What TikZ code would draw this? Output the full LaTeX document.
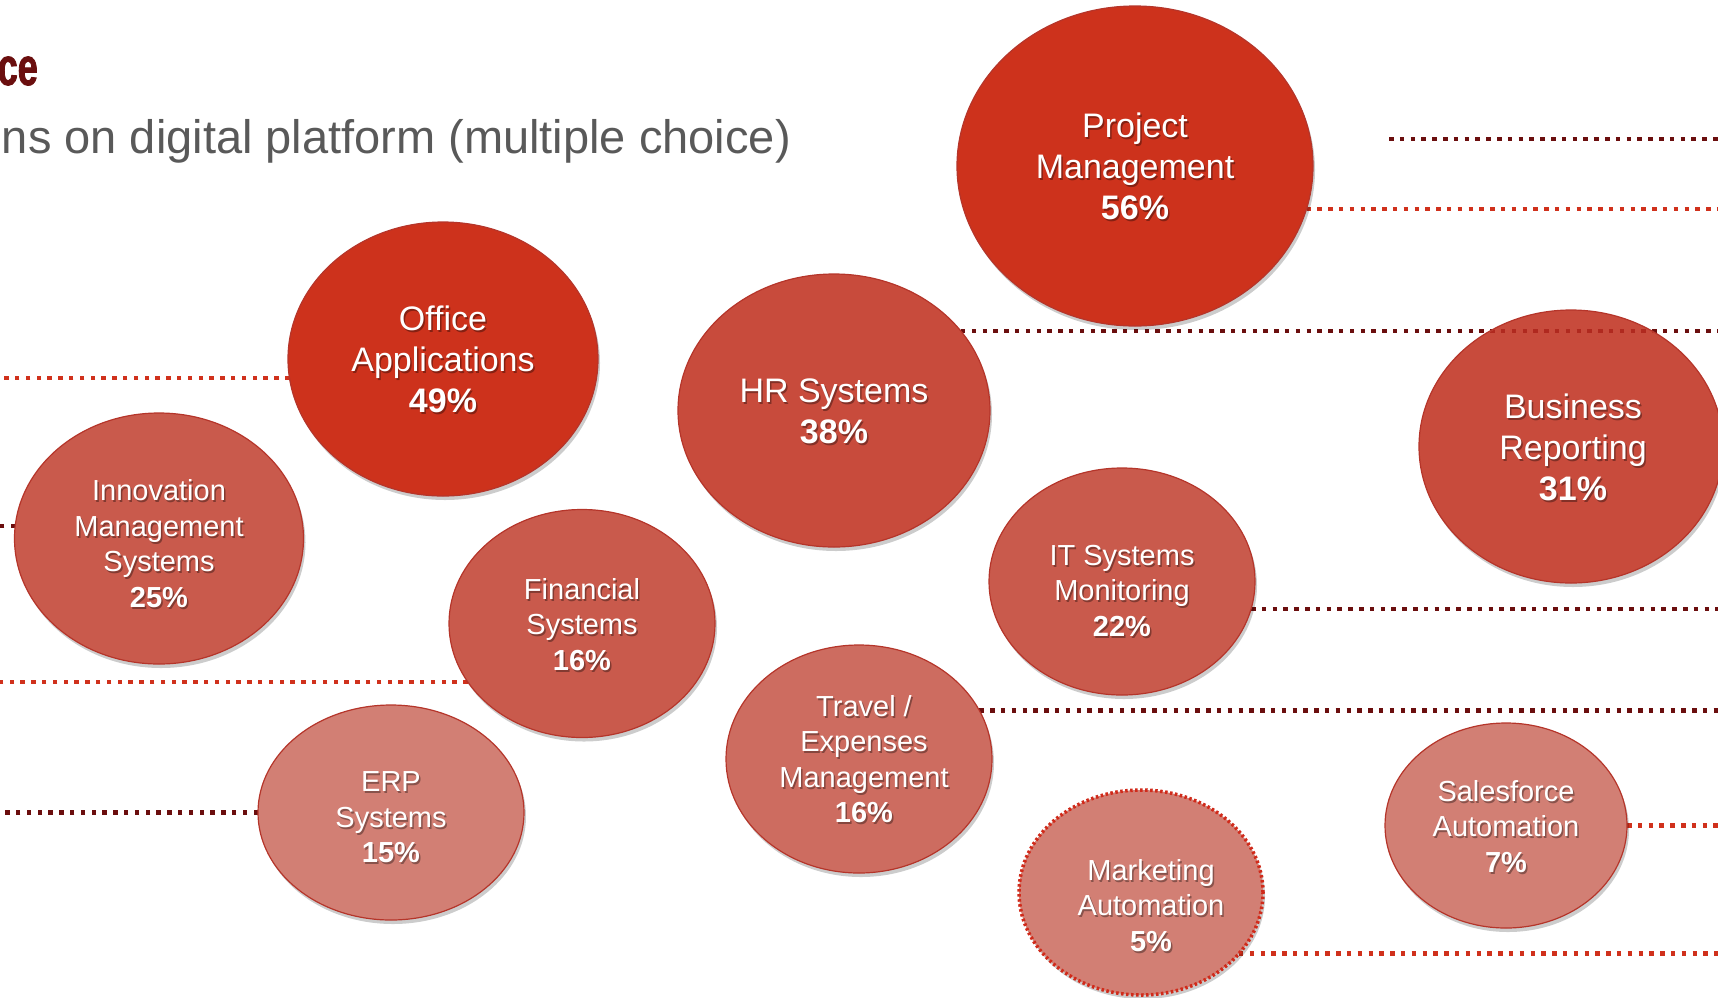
\documentclass[tikz,border=0pt]{standalone}
\usepackage{fontspec}
\setmainfont{Liberation Sans}
\newfontfamily\titlefont{Liberation Sans}[FakeStretch=0.68, FakeBold=1.6]
\usetikzlibrary{shapes.geometric,shadows}
\definecolor{cTop}{HTML}{CD321C}
\definecolor{cHigh}{HTML}{C84B3C}
\definecolor{cMid}{HTML}{C95A4C}
\definecolor{cTrav}{HTML}{CD6C60}
\definecolor{cLow}{HTML}{D27F74}
\definecolor{bord}{HTML}{B5352A}
\definecolor{lnD}{HTML}{6B0E0E}
\definecolor{lnB}{HTML}{D0311C}
\definecolor{lnX}{HTML}{B0291F}
\definecolor{titlecol}{HTML}{6B0F0F}
\definecolor{subcol}{HTML}{595959}
\definecolor{mkbord}{HTML}{D02A1A}
\pgfdeclarelayer{bg}
\pgfsetlayers{bg,main}
\newcommand\BubBig{\fontsize{34}{41}\selectfont}
\newcommand\BubSmall{\fontsize{29}{35.5}\selectfont}
\newcommand\btext[4]{%
  \node[txs,font=#3] (#1-s) at ([#2,xshift=1.5pt,yshift=-2pt]#1.center) {#4};
  \node[txt,font=#3] (#1-t) at ([#2]#1.center) {#4};}
\tikzset{
  bub/.style={ellipse, inner sep=0pt, outer sep=0pt, draw=bord, line width=1.2pt,
    drop shadow={shadow xshift=2pt, shadow yshift=-4pt, opacity=0.2, fill=black}},
  dk/.style={draw=lnD, line width=4.5pt, dash pattern=on 4.5pt off 6.3pt},
  bl/.style={draw=lnB, line width=4.5pt, dash pattern=on 4.5pt off 6.3pt},
  xl/.style={draw=lnX, line width=4.5pt, dash pattern=on 4.5pt off 6.3pt},
  txt/.style={text=white, align=center, inner sep=0pt},
  txs/.style={text=black, text opacity=0.35, align=center, inner sep=0pt},
}
\begin{document}
\begin{tikzpicture}[x=1pt,y=-1pt]
\useasboundingbox (0,0) rectangle (1718,997);
\coordinate (L) at (0,0);
\coordinate (R) at (1718,0);
\coordinate (l1) at (1389,139);

% title
\node[anchor=base east, inner sep=0pt, text=titlecol, font=\fontsize{53}{60}\titlefont\bfseries] (title) at (38,85) {ce};
\node[anchor=base east, inner sep=0pt, text=subcol, font=\fontsize{47}{56}\selectfont] (sub) at (791,153) {ns on digital platform (multiple choice)};

% bubbles
\node[bub, fill=cTop, minimum width=356pt, minimum height=320pt] (pm) at (1135,166) {};
\node[bub, fill=cTop, minimum width=310pt, minimum height=274pt] (of) at (443,359) {};
\node[bub, fill=cHigh, minimum width=312pt, minimum height=273pt] (hr) at (834,410.5) {};
\node[bub, fill=cHigh, minimum width=304pt, minimum height=273pt] (bu) at (1571,446.5) {};
\node[bub, fill=cMid, minimum width=289pt, minimum height=251pt] (in) at (159,538.5) {};
\node[bub, fill=cMid, minimum width=266pt, minimum height=228pt] (fi) at (582,623.5) {};
\node[bub, fill=cMid, minimum width=266pt, minimum height=227pt] (it) at (1122,581.5) {};
\node[bub, fill=cTrav, minimum width=266pt, minimum height=228pt] (tr) at (859,759) {};
\node[bub, fill=cLow, minimum width=266pt, minimum height=215pt] (erp) at (391,812.5) {};
\node[bub, fill=cLow, minimum width=242pt, minimum height=205pt] (sf) at (1506,825.5) {};
\node[bub, fill=cLow, draw=mkbord, line width=3.5pt, dash pattern=on 2.5pt off 2.5pt, minimum width=244pt, minimum height=205pt] (mk) at (1141,892.5) {};

% dotted lines
\begin{pgfonlayer}{bg}
\draw[dk] (l1) -- (l1 -| R);
\draw[bl] (pm.-14.1) -- (pm.-14.1 -| R);
\draw[dk] (hr.32.6) -- (hr.32.6 -| R);
\draw[bl] (of.187) -- (of.187 -| L);
\draw[dk] (in.175.3) -- (in.175.3 -| L);
\draw[dk] (it.-12.5) -- (it.-12.5 -| R);
\draw[bl] (fi.207.7) -- (fi.207.7 -| L);
\draw[dk] (tr.22.7) -- (tr.22.7 -| R);
\draw[dk] (erp.west) -- (erp.west -| L);
\draw[bl] (sf.east) -- (sf.east -| R);
\draw[bl] (mk.-32.9) -- (mk.-32.9 -| R);
\end{pgfonlayer}
% line seen through Business Reporting
\begin{scope}
\clip (bu.center) ellipse [x radius=151pt, y radius=135.5pt];
\draw[xl] (hr.32.6) -- (hr.32.6 -| R);
\end{scope}

% texts
\btext{pm}{yshift=0pt}{\BubBig}{Project\\Management\\\textbf{56\%}}
\btext{of}{yshift=0pt}{\BubBig}{Office\\Applications\\\textbf{49\%}}
\btext{hr}{yshift=-1pt}{\BubBig}{HR Systems\\\textbf{38\%}}
\btext{bu}{yshift=-1pt,xshift=2pt}{\BubBig}{Business\\Reporting\\\textbf{31\%}}
\btext{in}{yshift=-5pt}{\BubSmall}{Innovation\\Management\\Systems\\\textbf{25\%}}
\btext{fi}{yshift=-1pt}{\BubSmall}{Financial\\Systems\\\textbf{16\%}}
\btext{it}{yshift=-9pt}{\BubSmall}{IT Systems\\Monitoring\\\textbf{22\%}}
\btext{tr}{yshift=0pt,xshift=5pt}{\BubSmall}{Travel /\\Expenses\\Management\\\textbf{16\%}}
\btext{erp}{yshift=-5pt}{\BubSmall}{ERP\\Systems\\\textbf{15\%}}
\btext{sf}{yshift=-1pt}{\BubSmall}{Salesforce\\Automation\\\textbf{7\%}}
\btext{mk}{yshift=-13pt,xshift=10pt}{\BubSmall}{Marketing\\Automation\\\textbf{5\%}}
\end{tikzpicture}
\end{document}
